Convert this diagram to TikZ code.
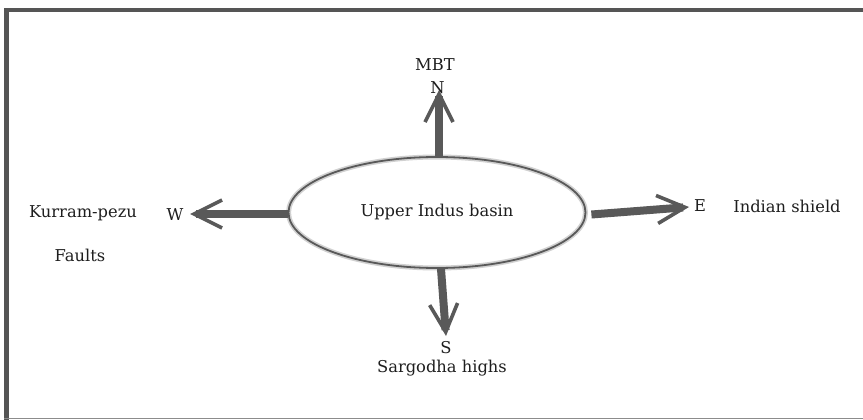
\documentclass[tikz,border=0pt]{standalone}
\usepackage{fontspec}
\setmainfont{DejaVu Serif}
\usetikzlibrary{shapes.geometric,arrows.meta}
\definecolor{framegray}{HTML}{555555}
\definecolor{arrowgray}{HTML}{595959}
\definecolor{textgray}{HTML}{1E1E1E}
\tikzset{
  label/.style={text=textgray, font=\fontsize{16.3}{18}\selectfont, inner sep=0pt},
  dirarrow/.style={draw=arrowgray, line width=8pt,
    -{Straight Barb[length=28pt,width=28pt,line width=3.6pt]}},
  basinshape/.style={ellipse, minimum width=297pt, minimum height=111pt, inner sep=0pt,
    draw=black!65, line width=1.8pt, preaction={draw=black!18, line width=5pt},
    text=textgray, font=\fontsize{16.3}{18}\selectfont},
}
\begin{document}
\begin{tikzpicture}[x=1pt, y=-1pt]
  \useasboundingbox (0,0) rectangle (863,420);
  \fill[white] (0,0) rectangle (863,420);
  % outer frame: heavy top and left edges, thin bottom edge
  \draw[framegray, line width=4.5pt] (6.5,420) -- (6.5,10) -- (863,10);
  \draw[black!45, line width=1.5pt] (4,418.5) -- (863,418.5);

  % central basin
  \node[basinshape] (basin) at (437,212.5) {Upper Indus basin};

  % arrow tips
  \coordinate (tipN) at (439,90);
  \coordinate (tipW) at (190,214);
  \coordinate (tipE) at (689,207);
  \coordinate (tipS) at (446,336);

  \draw[dirarrow] (basin.north -| tipN) -- (tipN);
  \draw[dirarrow] (basin.west |- tipW) -- (tipW);
  \draw[dirarrow] ([xshift=5pt,yshift=-2pt]basin.east) -- (tipE);
  \draw[dirarrow] ([xshift=4pt]basin.south) -- (tipS);

  % compass letters
  \node[label] (n) at (437.5,88) {N};
  \node[label] (w) at (175,215) {W};
  \node[label] (e) at (700,206) {E};
  \node[label] (s) at (446,348) {S};

  % bounding structures
  \node[label] (mbt) at (435,65) {MBT};
  \node[label] (kp) at (83,213) {Kurram-pezu};
  \node[label] (faults) at (80,255) {Faults};
  \node[label] (shield) at (787,206) {Indian shield};
  \node[label] (sargodha) at (442,368) {Sargodha highs};
\end{tikzpicture}
\end{document}
